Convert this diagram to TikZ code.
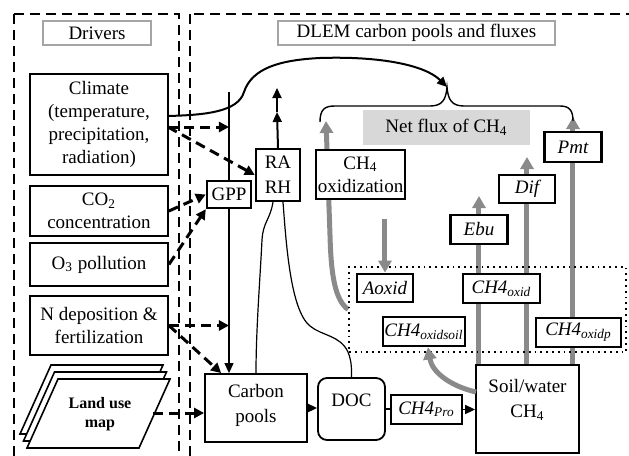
\documentclass[tikz,border=0pt]{standalone}
\usepackage{fontspec}
\setmainfont{Liberation Serif}
\usetikzlibrary{arrows.meta,backgrounds}
\definecolor{fluxgray}{RGB}{138,138,138}
\definecolor{netfill}{RGB}{216,216,216}
\definecolor{titleedge}{RGB}{165,165,165}
\tikzset{
  txt/.style={font=\fontsize{9.5}{11.5}\selectfont},
  titlebox/.style={draw=titleedge, line width=0.8pt, inner sep=0pt, txt},
  driver/.style={draw, line width=0.9pt, minimum width=69pt, align=center, inner sep=0pt, fill=white, txt},
  procbox/.style={draw, line width=1.2pt, align=center, inner sep=0pt, fill=white, txt},
  fluxbox/.style={draw, line width=1.4pt, inner sep=0pt, fill=white, font=\fontsize{9.5}{11.5}\selectfont\itshape},
  poolbox/.style={draw, line width=0.9pt, align=center, inner sep=0pt, fill=white, font=\fontsize{9.5}{12.5}\selectfont},
  regionbox/.style={line width=1pt, dash pattern=on 5pt off 3pt},
  driverarrow/.style={line width=1.5pt, dash pattern=on 5pt off 3pt, -{Triangle[width=5pt,length=5pt]}},
  flowarrow/.style={line width=0.8pt, -{Triangle[width=4.5pt,length=5pt]}},
  thinlink/.style={line width=0.6pt},
  ch4arrow/.style={draw=fluxgray, line width=2.5pt, -{Triangle[width=6.5pt,length=6pt]}},
}
\begin{document}
\begin{tikzpicture}[x=0.5pt,y=-0.5pt]
\useasboundingbox (0,0) rectangle (629,456);

% model regions
\draw[regionbox] (14,14) rectangle (179,470);
\draw[regionbox] (190,14) rectangle (645,470);

% region titles
\node[titlebox, minimum width=54pt, minimum height=12pt] (drvtitle) at (97,33) {Drivers};
\node[titlebox, minimum width=138.5pt, minimum height=12pt] (dlemtitle) at (416.5,33) {DLEM carbon pools and fluxes};

% drivers
\node[driver, minimum height=50.5pt] (clim) at (99,124.5) {Climate\\(temperature,\\precipitation,\\radiation)};
\node[driver, minimum height=25pt] (co2) at (99,211) {CO\textsubscript{2}\\concentration};
\node[driver, minimum height=21.5pt] (o3) at (99,264.5) {O\textsubscript{3} pollution};
\node[driver, minimum height=29.5pt] (ndep) at (99,325.5) {N deposition \&\\fertilization};

% land use map: a stack of sheets
\foreach \k in {2,1,0}
  \draw[line width=0.8pt, fill=white, shift={({-3.5*\k},{-7*\k})}]
    (58,379) -- (170,379) -- (139,448) -- (27,448) -- cycle;
\node[font=\fontsize{8}{9.5}\selectfont\bfseries, align=center] (land) at (100,414) {Land use\\map};

% carbon processes
\node[procbox, minimum width=22pt, minimum height=13.5pt] (gpp) at (229,194.5) {GPP};
\node[procbox, minimum width=22pt, minimum height=26pt, font=\fontsize{9.5}{12.5}\selectfont] (rarh) at (278,175) {RA\\RH};
\node[procbox, minimum width=44.5pt, minimum height=24.5pt] (oxi) at (360.5,174.5) {CH\textsubscript{4}\\oxidization};
\node[fill=netfill, inner sep=0pt, txt, minimum width=83.5pt, minimum height=17.5pt] (net) at (446.5,127.5) {Net flux of CH\textsubscript{4}};

% emission pathways
\node[fluxbox, minimum width=28.5pt, minimum height=15pt] (pmt) at (573,147) {Pmt};
\node[fluxbox, minimum width=28pt, minimum height=14pt] (dif) at (527,189) {Dif};
\node[fluxbox, minimum width=28.5pt, minimum height=14.5pt] (ebu) at (479,229.5) {Ebu};

% oxidation zone
\node[draw, dotted, line width=0.9pt, inner sep=0pt, minimum width=138.5pt, minimum height=42.5pt] (oxzone) at (487.5,309.5) {};
\node[fluxbox, minimum width=28pt, minimum height=14pt] (aoxid) at (385,288) {Aoxid};
\node[fluxbox, minimum width=38.5pt, minimum height=14.5pt] (oxid) at (501.5,288.5) {CH4\textsubscript{oxid}};
\node[fluxbox, minimum width=41pt, minimum height=14.5pt] (oxsoil) at (424,331.5) {CH4\textsubscript{oxidsoil}};
\node[fluxbox, minimum width=42.5pt, minimum height=14.5pt] (oxp) at (578.5,332.5) {CH4\textsubscript{oxidp}};

% pools
\node[poolbox, minimum width=51pt, minimum height=34pt, text depth=5pt] (cp) at (256,408) {Carbon\\pools};
\node[poolbox, rounded corners=4.5pt, minimum width=33.5pt, minimum height=31pt, text depth=9pt] (doc) at (351.5,409) {DOC};
\node[fluxbox, minimum width=35.5pt, minimum height=14.5pt] (pro) at (426.5,409.5) {CH4\textsubscript{Pro}};
\node[poolbox, minimum width=51.5pt, minimum height=44pt, text depth=10.5pt] (soil) at (527.5,409) {Soil/water\\CH\textsubscript{4}};

% free ends of connectors
\coordinate (gpptop) at (229,92);
\coordinate (rmid) at (277,112);
\coordinate (rtop) at (277,88);
\coordinate (climA) at (168,116);
\coordinate (climB) at (168,127);
\coordinate (bracetip) at (447,87);
\coordinate (ebutip) at (479,196);
\coordinate (diftip) at (527,157);
\coordinate (pmttip) at (573,117);
\coordinate (oxitip) at (326,121);
\coordinate (aoxstart) at (385,219);
\coordinate (soilout) at (476,392);
\coordinate (landout) at (153,413);

% links hidden behind boxes
\begin{pgfonlayer}{background}
  \draw[flowarrow, line width=0.6pt] (gpptop) -- (gpptop |- cp.north);
  \draw[ch4arrow] (ebu.south |- soil.north) -- (ebutip);
  \draw[ch4arrow] (dif.south |- soil.north) -- (diftip);
  \draw[ch4arrow] (pmt.south |- soil.north) -- (pmttip);
  \draw[ch4arrow] (oxzone.west) .. controls (335,300) and (331,275) .. (330,235) -- (oxitip);
\end{pgfonlayer}

% methane transfers
\draw[ch4arrow] (aoxstart) -- (aoxid.north);
\draw[ch4arrow] (soilout) .. controls (450,386) and (432,372) .. ([xshift=2pt]oxsoil.south);

% carbon flow
\draw[flowarrow] (cp.east) -- (cp.east -| doc.west);
\draw[thinlink] (doc.east) -- (doc.east -| pro.west);
\draw[flowarrow] (pro.east) -- (pro.east -| soil.west);
\draw[flowarrow, line width=1pt] (rarh.north) -- (rmid);
\draw[flowarrow, line width=1pt] (rmid) -- (rtop);
\draw[thinlink] ([xshift=-2.5pt]rarh.south) .. controls (270,220) and (263,222) .. (262,240)
  .. controls (260,280) and (256,330) .. (cp.north);
\draw[thinlink] ([xshift=2.5pt]rarh.south) .. controls (286,240) and (290,310) .. (310,326)
  .. controls (322,336) and (340,335) .. (348,352) .. controls (352,362) and (351.5,370) .. (doc.north);

% climate feedback on the net flux
\draw[flowarrow, line width=1pt] (climA) .. controls (205,115) and (238,112) .. (244,92)
  .. controls (252,68) and (280,60) .. (320,58) .. controls (380,56) and (425,65) .. (bracetip);
\draw[line width=0.7pt] (320,122) .. controls (320,109) and (325,106) .. (335,106) -- (430,106)
  .. controls (442,106) and (446,100) .. (bracetip) .. controls (448,100) and (452,106) .. (464,106)
  -- (560,106) .. controls (570,106) and (573,111) .. (573,121);

% driver influences
\draw[driverarrow] (climB) -- (climB -| gpptop);
\draw[driverarrow] (climB) -- (rarh.west);
\draw[driverarrow] (co2.east) -- (gpp.west);
\draw[driverarrow] (o3.east) -- (gpp.south west);
\draw[driverarrow] (ndep.east) -- (ndep.east -| gpptop);
\draw[driverarrow] (ndep.east) -- ([xshift=8.5pt]cp.north west);
\draw[driverarrow] (landout) -- (landout -| cp.west);
\end{tikzpicture}
\end{document}
